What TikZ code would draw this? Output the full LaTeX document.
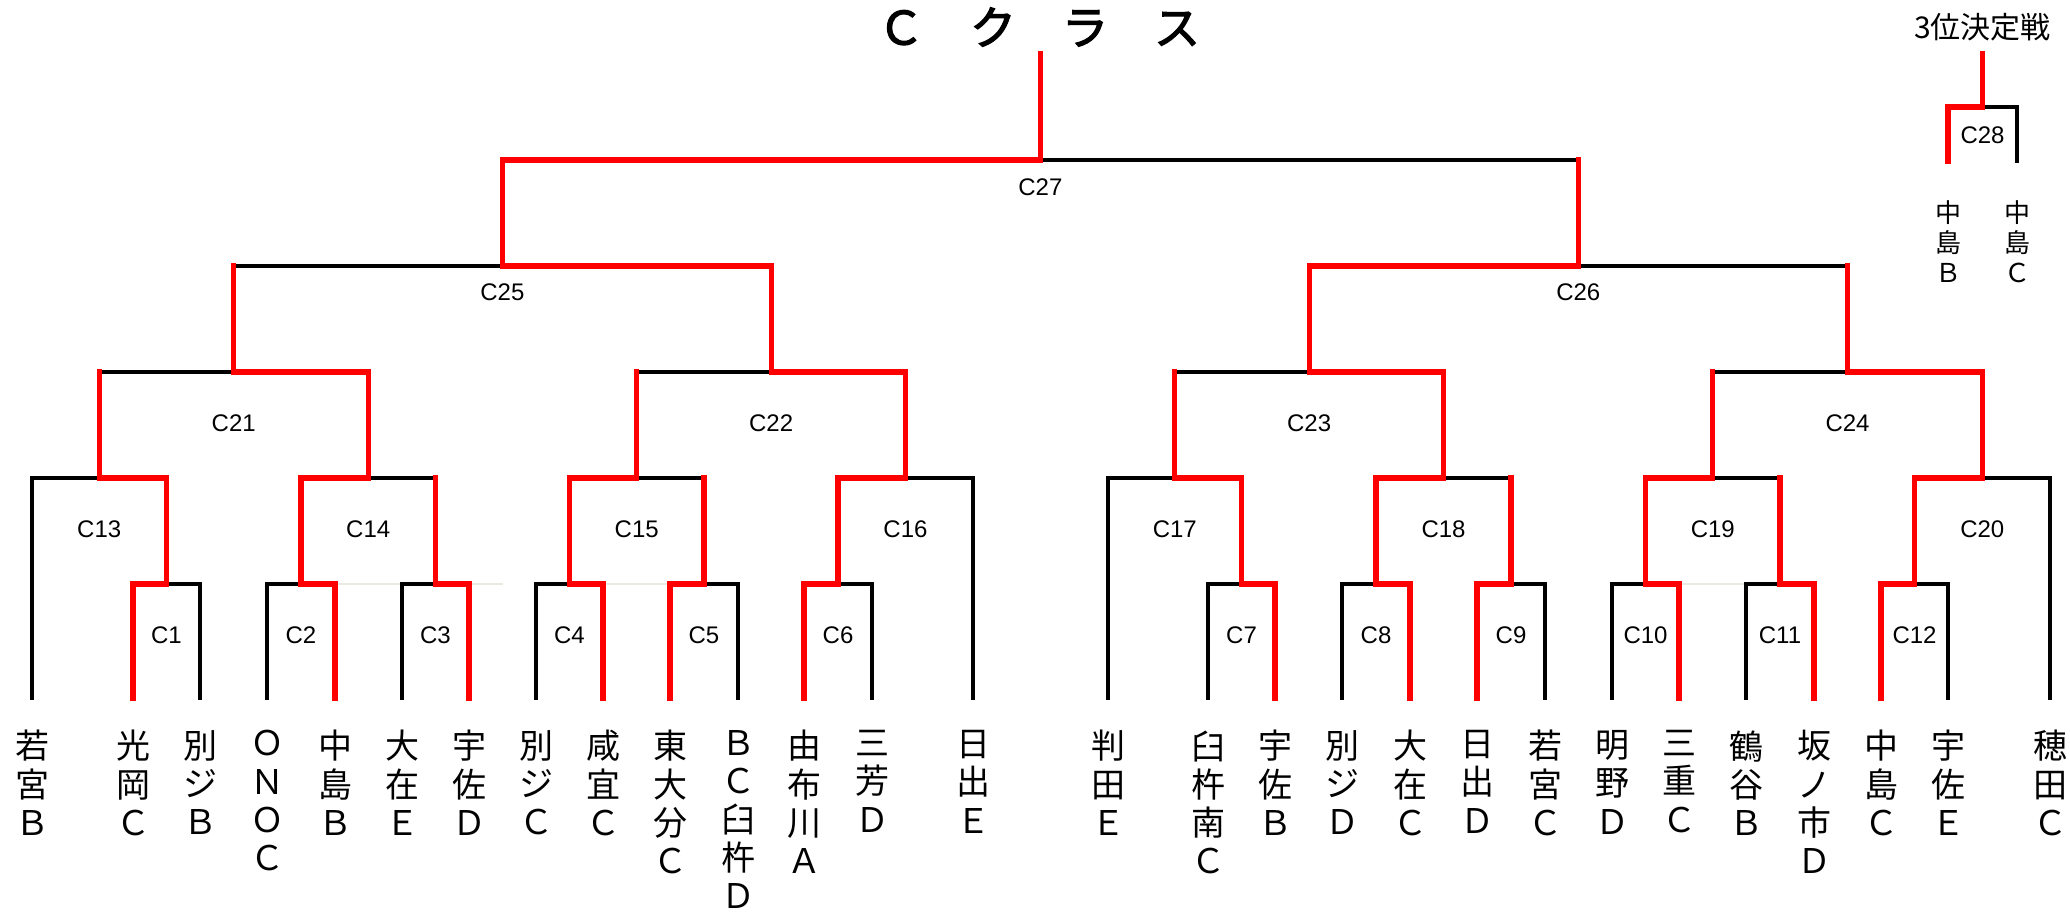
\documentclass[tikz,border=0pt]{standalone}
\usepackage{fontspec}
\newfontfamily\jp{Noto Sans CJK JP}
\newfontfamily\jptitle[FakeBold=2.5]{Noto Sans CJK JP}
\newfontfamily\lab{Liberation Sans}
\usetikzlibrary{calc}
\pgfdeclarelayer{faint}
\pgfdeclarelayer{back}
\pgfsetlayers{faint,back,main}
\newcommand\seg[3]{\if#1r\draw[win] (#2) -- (#3);\else\begin{pgfonlayer}{back}\draw[lose] (#2) -- (#3);\end{pgfonlayer}\fi}
\newcommand\bout[7]{\seg{#4}{#2}{#2 |- #1}\seg{#5}{#3}{#3 |- #1}\seg{#6}{#2 |- #1}{#1}\seg{#7}{#3 |- #1}{#1}}
\begin{document}
\begin{tikzpicture}[x=0.5pt,y=-0.5pt,
  win/.style={draw={rgb,255:red,255;green,0;blue,0}, line width=2.6pt, line cap=rect},
  lose/.style={draw=black, line width=1.6pt, line cap=rect},
  faintline/.style={draw={rgb,255:red,236;green,233;blue,225}, line width=0.9pt},
  leafname/.style={font=\jp\fontsize{17pt}{19.15pt}\selectfont, align=center, anchor=north, inner sep=0pt},
  smallname/.style={font=\jp\fontsize{13pt}{15pt}\selectfont, align=center, anchor=north, inner sep=0pt},
  boutlab/.style={font=\lab\fontsize{12pt}{14pt}\selectfont, inner sep=0pt},
  titletext/.style={font=\jptitle\fontsize{23pt}{26pt}\selectfont, inner sep=0pt},
  subtitle/.style={font=\jp\fontsize{15pt}{18pt}\selectfont, inner sep=0pt}]
\useasboundingbox (0,0) rectangle (2070,915);
% leaf ends
\foreach \i/\x in {1/32,2/133,3/200,4/267,5/335,6/402,7/469,8/536,9/603,10/670,11/738,12/804,13/872,14/973,
  15/1108,16/1208,17/1275,18/1342,19/1410,20/1477,21/1545,22/1612,23/1679,24/1746,25/1814,26/1881,27/1948,28/2050}
  {\coordinate (l\i) at (\x,698);}
% match midpoints
\coordinate (m1) at (166.5,584);
\coordinate (m2) at (301,584);
\coordinate (m3) at (435.5,584);
\coordinate (m4) at (569.5,584);
\coordinate (m5) at (704,584);
\coordinate (m6) at (838,584);
\coordinate (m7) at (1241.5,584);
\coordinate (m8) at (1376,584);
\coordinate (m9) at (1511,584);
\coordinate (m10) at (1645.5,584);
\coordinate (m11) at (1780,584);
\coordinate (m12) at (1914.5,584);
\coordinate (m13) at (99.25,478);
\coordinate (m14) at (368.25,478);
\coordinate (m15) at (636.75,478);
\coordinate (m16) at (905.5,478);
\coordinate (m17) at (1174.75,478);
\coordinate (m18) at (1443.5,478);
\coordinate (m19) at (1712.75,478);
\coordinate (m20) at (1982.25,478);
\coordinate (m21) at (233.75,372);
\coordinate (m22) at (771.1,372);
\coordinate (m23) at (1309.1,372);
\coordinate (m24) at (1847.5,372);
\coordinate (m25) at (502.4,266);
\coordinate (m26) at (1578.3,266);
\coordinate (m27) at (1040.4,160);
\coordinate (t27) at (1040.4,54);
\coordinate (p1) at (1948,161);
\coordinate (p2) at (2017,161);
\coordinate (m28) at (1982.5,107);
\coordinate (t28) at (1982.5,54);
\coordinate (f1) at (503,584);
% faint lines
\begin{pgfonlayer}{faint}
\draw[faintline] (l5 |- m2) -- (l6 |- m3);
\draw[faintline] (l7 |- m3) -- (f1);
\draw[faintline] (l9 |- m4) -- (l10 |- m5);
\draw[faintline] (l23 |- m10) -- (l24 |- m11);
\end{pgfonlayer}
% first round
\bout{m1}{l2}{l3}{r}{k}{r}{k}
\bout{m2}{l4}{l5}{k}{r}{k}{r}
\bout{m3}{l6}{l7}{k}{r}{k}{r}
\bout{m4}{l8}{l9}{k}{r}{k}{r}
\bout{m5}{l10}{l11}{r}{k}{r}{k}
\bout{m6}{l12}{l13}{r}{k}{r}{k}
\bout{m7}{l16}{l17}{k}{r}{k}{r}
\bout{m8}{l18}{l19}{k}{r}{k}{r}
\bout{m9}{l20}{l21}{r}{k}{r}{k}
\bout{m10}{l22}{l23}{k}{r}{k}{r}
\bout{m11}{l24}{l25}{k}{r}{k}{r}
\bout{m12}{l26}{l27}{r}{k}{r}{k}
% second round
\bout{m13}{l1}{m1}{k}{r}{k}{r}
\bout{m14}{m2}{m3}{r}{r}{r}{k}
\bout{m15}{m4}{m5}{r}{r}{r}{k}
\bout{m16}{m6}{l14}{r}{k}{r}{k}
\bout{m17}{l15}{m7}{k}{r}{k}{r}
\bout{m18}{m8}{m9}{r}{r}{r}{k}
\bout{m19}{m10}{m11}{r}{r}{r}{k}
\bout{m20}{m12}{l28}{r}{k}{r}{k}
% third round
\bout{m21}{m13}{m14}{r}{r}{k}{r}
\bout{m22}{m15}{m16}{r}{r}{k}{r}
\bout{m23}{m17}{m18}{r}{r}{k}{r}
\bout{m24}{m19}{m20}{r}{r}{k}{r}
% semis and final
\bout{m25}{m21}{m22}{r}{r}{k}{r}
\bout{m26}{m23}{m24}{r}{r}{r}{k}
\bout{m27}{m25}{m26}{r}{r}{r}{k}
\seg{r}{m27}{t27}
% third place
\bout{m28}{p1}{p2}{r}{k}{r}{k}
\seg{r}{m28}{t28}
% titles
\node[titletext] (title) at (1039,27) {Ｃ　ク　ラ　ス};
\node[subtitle] (third) at (1982.5,27.5) {3位決定戦};
% match labels
\foreach \i/\x in {1/166.5,2/301,3/435.5,4/569.5,5/704,6/838,7/1241.5,8/1376,9/1511,10/1645.5,11/1780,12/1914.5}
  {\node[boutlab] (c\i) at (\x,635) {C\i};}
\foreach \i/\x in {13/99.25,14/368.25,15/636.75,16/905.5,17/1174.75,18/1443.5,19/1712.75,20/1982.25}
  {\node[boutlab] (c\i) at (\x,529) {C\i};}
\foreach \i/\x in {21/233.75,22/771.1,23/1309.1,24/1847.5}
  {\node[boutlab] (c\i) at (\x,423) {C\i};}
\node[boutlab] (c25) at (502.4,292) {C25};
\node[boutlab] (c26) at (1578.3,292) {C26};
\node[boutlab] (c27) at (1040.4,187) {C27};
\node[boutlab] (c28) at (1982.5,135) {C28};
% team names
\node[leafname] (n1) at (32,730) {若\\宮\\Ｂ};
\node[leafname] (n2) at (133,730) {光\\岡\\Ｃ};
\node[leafname] (n3) at (200,730) {別\\ジ\\Ｂ};
\node[leafname] (n4) at (267,730) {Ｏ\\Ｎ\\Ｏ\\Ｃ};
\node[leafname] (n5) at (335,730) {中\\島\\Ｂ};
\node[leafname] (n6) at (402,730) {大\\在\\Ｅ};
\node[leafname] (n7) at (469,730) {宇\\佐\\Ｄ};
\node[leafname] (n8) at (536,730) {別\\ジ\\Ｃ};
\node[leafname] (n9) at (603,730) {咸\\宜\\Ｃ};
\node[leafname] (n10) at (670,730) {東\\大\\分\\Ｃ};
\node[leafname] (n11) at (738,730) {Ｂ\\Ｃ\\臼\\杵\\Ｄ};
\node[leafname] (n12) at (804,730) {由\\布\\川\\Ａ};
\node[leafname] (n13) at (872,730) {三\\芳\\Ｄ};
\node[leafname] (n14) at (973,730) {日\\出\\Ｅ};
\node[leafname] (n15) at (1108,730) {判\\田\\Ｅ};
\node[leafname] (n16) at (1208,730) {臼\\杵\\南\\Ｃ};
\node[leafname] (n17) at (1275,730) {宇\\佐\\Ｂ};
\node[leafname] (n18) at (1342,730) {別\\ジ\\Ｄ};
\node[leafname] (n19) at (1410,730) {大\\在\\Ｃ};
\node[leafname] (n20) at (1477,730) {日\\出\\Ｄ};
\node[leafname] (n21) at (1545,730) {若\\宮\\Ｃ};
\node[leafname] (n22) at (1612,730) {明\\野\\Ｄ};
\node[leafname] (n23) at (1679,730) {三\\重\\Ｃ};
\node[leafname] (n24) at (1746,730) {鶴\\谷\\Ｂ};
\node[leafname] (n25) at (1814,730) {坂\\ノ\\市\\Ｄ};
\node[leafname] (n26) at (1881,730) {中\\島\\Ｃ};
\node[leafname] (n27) at (1948,730) {宇\\佐\\Ｅ};
\node[leafname] (n28) at (2050,730) {穂\\田\\Ｃ};
\node[smallname] (q1) at (1948,200) {中\\島\\Ｂ};
\node[smallname] (q2) at (2017,200) {中\\島\\Ｃ};
\end{tikzpicture}
\end{document}
